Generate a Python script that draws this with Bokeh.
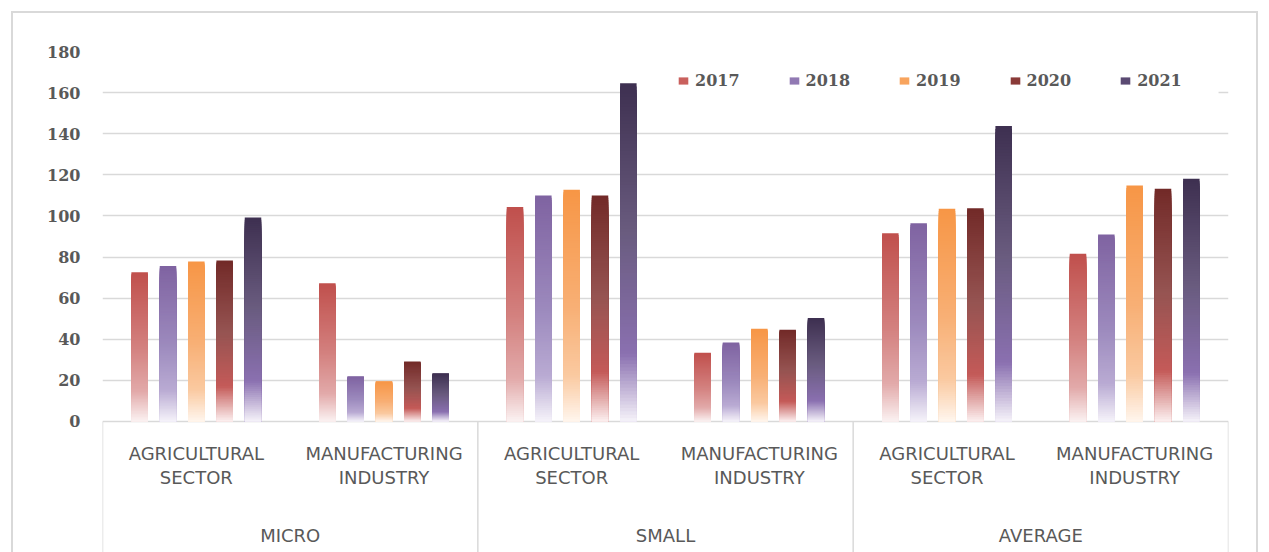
from bokeh.plotting import figure
from bokeh.models import (ColumnDataSource, FactorRange, Range1d, FixedTicker, Legend,
                          LegendItem, BoxAnnotation, CategoricalScale)
from bokeh.core.properties import value
from bokeh.transform import dodge
from bokeh.embed import file_html
from bokeh.resources import INLINE

# ---------------- data ----------------
groups = ["MICRO", "SMALL", "AVERAGE"]
sectors = ["AGRICULTURAL\nSECTOR", "MANUFACTURING\nINDUSTRY"]
years = ["2017", "2018", "2019", "2020", "2021"]
y_ticks = [0, 20, 40, 60, 80, 100, 120, 140, 160, 180]

# order: MICRO-agri, MICRO-manuf, SMALL-agri, SMALL-manuf, AVERAGE-agri, AVERAGE-manuf
v2017 = [72.6, 67.3, 104.3, 33.4, 91.6, 81.6]
v2018 = [75.6, 22.0, 109.9, 38.4, 96.5, 91.0]
v2019 = [77.8, 19.6, 112.7, 45.1, 103.5, 114.8]
v2020 = [78.3, 29.2, 109.9, 44.6, 103.8, 113.2]
v2021 = [99.2, 23.5, 164.6, 50.3, 143.7, 118.1]
series = {"2017": v2017, "2018": v2018, "2019": v2019, "2020": v2020, "2021": v2021}

factors = [(g, s) for g in groups for s in sectors]

# ---------------- style ----------------
STOPS = {
    "2017": [(0.0, "#C0504D"), (0.5, "#D3807E"), (0.8, "#E2AAAA"), (1.0, "#FBF2F2")],
    "2018": [(0.0, "#7F63A1"), (0.5, "#9C89BD"), (0.8, "#B9ABD3"), (1.0, "#F6F3FA")],
    "2019": [(0.0, "#F79646"), (0.5, "#F8AF74"), (0.8, "#FAC9A0"), (1.0, "#FFF6EE")],
    "2020": [(0.0, "#722A28"), (0.45, "#965452"), (0.78, "#C45A58"), (1.0, "#FCF0F0")],
    "2021": [(0.0, "#3E3050"), (0.45, "#6A5C80"), (0.8, "#8A70B0"), (1.0, "#F6F3FA")],
}
SWATCH = {"2017": "#C9605D", "2018": "#9179B3", "2019": "#F8A45E",
          "2020": "#8A3A38", "2021": "#5A4A72"}
PITCH = 0.151
BAR_W = 0.088
N_SLICES = 100
GRID = "#d9d9d9"
TXT = "#595959"
Y_BOTTOM = -63.73      # label band below the zero line
SUB_Y = -21.4          # sector label block centre
GRP_Y = -55.4          # group label centre


def hex2rgb(h):
    h = h.lstrip("#")
    return tuple(int(h[i:i + 2], 16) for i in (0, 2, 4))


def grad(stops, f):
    for (f0, c0), (f1, c1) in zip(stops[:-1], stops[1:]):
        if f0 <= f <= f1:
            t = (f - f0) / (f1 - f0)
            a, b = hex2rgb(c0), hex2rgb(c1)
            r = [round(a[j] + (b[j] - a[j]) * t) for j in range(3)]
            return "#%02x%02x%02x" % tuple(r)
    return stops[-1][1]


x_range = FactorRange(*factors, factor_padding=0, group_padding=0,
                      subgroup_padding=0, range_padding=0)

p = figure(width=1269, height=552, x_range=x_range, y_range=Range1d(Y_BOTTOM, 180),
           output_backend="svg", toolbar_location=None, x_axis_location=None,
           min_border_left=102, min_border_right=41, min_border_top=51,
           min_border_bottom=0)
p.outline_line_color = None
p.background_fill_color = "white"
p.border_fill_alpha = 0
# outer chart border (page background behind the transparent margins)
line = "linear-gradient(#d9d9d9, #d9d9d9)"
p.styles = {"background": f"{line} 11px 11px / 1247px 2px no-repeat, "
                          f"{line} 11px 11px / 2px 600px no-repeat, "
                          f"{line} 1256px 11px / 2px 600px no-repeat, #ffffff"}

# y axis & grid
p.yaxis.ticker = FixedTicker(ticks=y_ticks)
p.yaxis.axis_line_color = None
p.yaxis.major_tick_line_color = None
p.yaxis.minor_tick_line_color = None
p.yaxis.major_tick_out = 0
p.yaxis.major_tick_in = 0
p.yaxis.major_label_standoff = 22
p.yaxis.major_label_text_font = "DejaVu Serif"
p.yaxis.major_label_text_font_style = "bold"
p.yaxis.major_label_text_font_size = "16px"
p.yaxis.major_label_text_color = TXT
p.ygrid.ticker = FixedTicker(ticks=y_ticks)
p.ygrid.grid_line_color = GRID
p.ygrid.grid_line_width = 1.5
p.xgrid.visible = False

# legend background mask over the 160 grid line
p.add_layout(BoxAnnotation(left=2.846, right=5.947, bottom=146, top=172,
                           fill_color="white", fill_alpha=1, line_color=None,
                           level="underlay"))

# bars with vertical gradient (stacked slices)
legend_items = []
for i, yr in enumerate(years):
    xs, tops, cols = [], [], []
    for k in range(N_SLICES):
        c = grad(STOPS[yr], (k + 0.5) / N_SLICES)
        for f, v in zip(factors, series[yr]):
            xs.append(f)
            tops.append(v * (1 - k / N_SLICES))
            cols.append(c)
    src = ColumnDataSource(dict(x=xs, top=tops, color=cols))
    p.vbar(x=dodge("x", (i - 2) * PITCH, range=x_range), top="top", bottom=0,
           width=BAR_W, fill_color="color", line_color=None, source=src)
    sw = p.vbar(x=[factors[0]], top=[0], bottom=[0], width=BAR_W,
                fill_color=SWATCH[yr], line_color=None)
    legend_items.append(LegendItem(label=yr, renderers=[sw]))

legend = Legend(items=legend_items, orientation="horizontal", location=(575, 462),
                padding=0, margin=0, spacing=48, glyph_width=12, glyph_height=9,
                label_standoff=6, label_height=20, background_fill_alpha=0,
                border_line_color=None, label_text_font="DejaVu Serif",
                label_text_font_style="bold", label_text_font_size="16px",
                label_text_color=TXT)
p.add_layout(legend)

# category band: group separators and labels
bounds = [0]
for g in groups:
    bounds.append(bounds[-1] + len(sectors))
p.segment(x0=bounds, y0=[0] * len(bounds), x1=bounds, y1=[Y_BOTTOM] * len(bounds),
          line_color=GRID, line_width=1.5)

p.text(x=factors, y=[SUB_Y] * len(factors), text=[f[1] for f in factors],
       text_align="center", text_baseline="middle", text_font=value("DejaVu Sans"),
       text_font_size="18px", text_color=TXT, text_line_height=1.12)

p.extra_x_ranges = {"grp": FactorRange(*groups, factor_padding=0, range_padding=0)}
p.extra_x_scales = {"grp": CategoricalScale()}
p.text(x=groups, y=[GRP_Y] * len(groups), text=groups, x_range_name="grp",
       text_align="center", text_baseline="middle", text_font=value("DejaVu Sans"),
       text_font_size="18px", text_color=TXT)

open("out.html", "w").write(file_html(p, INLINE))
